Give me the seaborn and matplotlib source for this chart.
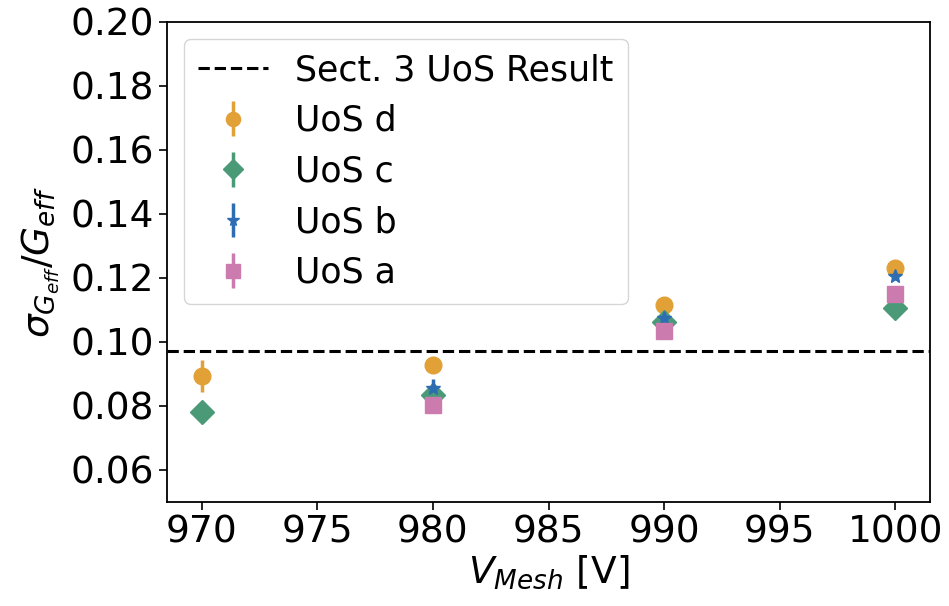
import matplotlib
matplotlib.use("Agg")
import matplotlib.pyplot as plt
import seaborn as sns
import numpy as np

# Mesh voltages [V]
v_mesh = [970, 980, 990, 1000]

# Relative gain spread per detector
uos_d = [0.0892, 0.0928, 0.1116, 0.1230]
uos_d_err = [0.0050, 0.0015, 0.0010, 0.0010]
uos_c = [0.0779, 0.0835, 0.1062, 0.1105]
uos_c_err = [0.0010, 0.0010, 0.0010, 0.0010]
uos_b = [np.nan, 0.0855, 0.1075, 0.1207]
uos_b_err = [0.0, 0.0030, 0.0010, 0.0015]
uos_a = [np.nan, 0.0802, 0.1033, 0.1148]
uos_a_err = [0.0, 0.0010, 0.0010, 0.0010]

sect3_result = 0.097

labels = ["UoS d", "UoS c", "UoS b", "UoS a"]
colors = ["#E1A137", "#4A9A78", "#2E6DB2", "#CC7BAE"]
markers = ["o", "D", "*", "s"]
msizes = [12, 12, 10, 12]

sns.set_theme(style="ticks")
plt.rcParams["font.family"] = ["DejaVu Sans"]
plt.rcParams["text.color"] = "black"

fig = plt.figure(figsize=(9.49, 6.06), dpi=100)
ax = fig.add_axes([0.176, 0.172, 0.804, 0.792])

ax.axhline(sect3_result, color="black", ls="--", lw=2.2, label="Sect. 3 UoS Result")

series = [(uos_d, uos_d_err), (uos_c, uos_c_err), (uos_b, uos_b_err), (uos_a, uos_a_err)]
for (vals, errs), lab, col, mk, ms in zip(series, labels, colors, markers, msizes):
    ax.errorbar(v_mesh, vals, yerr=errs, fmt=mk, color=col, ms=ms,
                elinewidth=2.5, capsize=0, label=lab, ls="none")

ax.set_xlim(968.5, 1001.5)
ax.set_ylim(0.05, 0.20)
ax.set_xticks([970, 975, 980, 985, 990, 995, 1000])
ax.set_yticks([0.06, 0.08, 0.10, 0.12, 0.14, 0.16, 0.18, 0.20])
ax.yaxis.set_major_formatter(matplotlib.ticker.FormatStrFormatter("%.2f"))
ax.tick_params(labelsize=27, length=6, width=1.2, color="black", labelcolor="black")
for sp in ax.spines.values():
    sp.set_visible(True)
    sp.set_color("black")
    sp.set_linewidth(1.3)

ax.set_xlabel(r"$V_{Mesh}$ [V]", fontsize=27, color="black", labelpad=2)
ax.set_ylabel(r"$\sigma_{G_{eff}}/G_{eff}$", fontsize=27, color="black", labelpad=6)

ax.legend(loc="upper left", fontsize=25, frameon=True, handlelength=2.0,
          markerscale=0.85, labelcolor="black", borderaxespad=0.5,
          labelspacing=0.48, borderpad=0.4)

fig.savefig("out.png", dpi=100)
